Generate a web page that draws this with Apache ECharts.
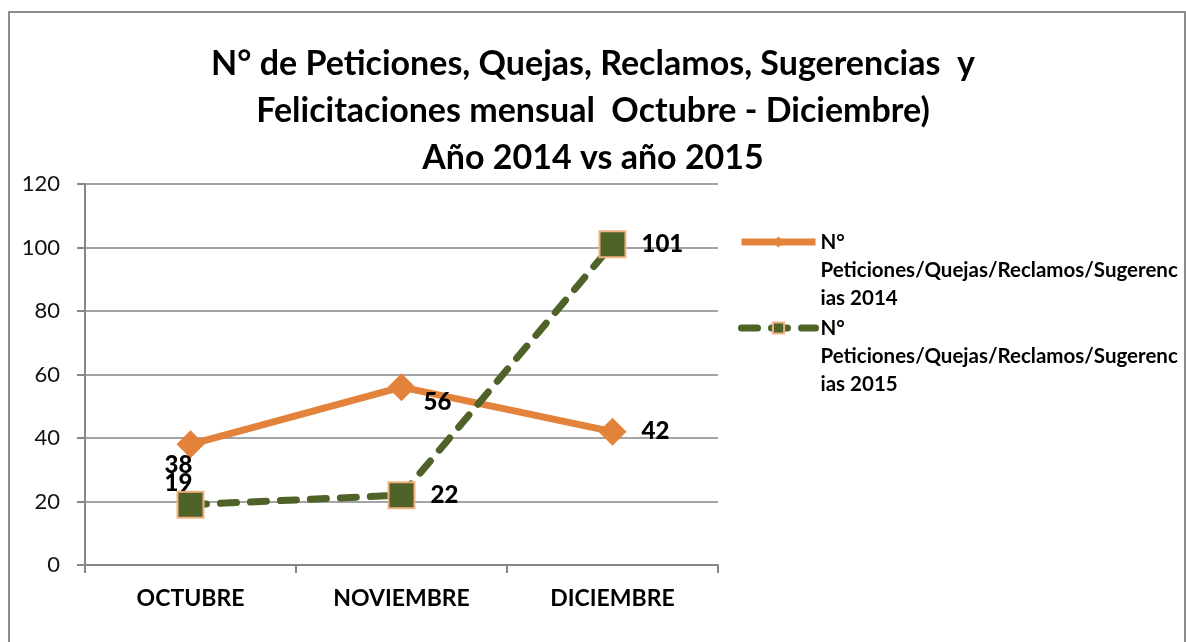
<!DOCTYPE html>
<html>
<head>
<meta charset="utf-8">
<script src="https://cdn.jsdelivr.net/npm/echarts@6/dist/echarts.min.js"></script>
<style>
  html, body { margin: 0; padding: 0; background: #fff; }
  #main { width: 1186px; height: 642px; }
</style>
</head>
<body>
<div id="main"></div>
<script>
var meses = ['OCTUBRE', 'NOVIEMBRE', 'DICIEMBRE'];
var valores2014 = [38, 56, 42];
var valores2015 = [19, 22, 101];
var nombre2014 = 'N°\nPeticiones/Quejas/Reclamos/Sugerenc\nias 2014';
var nombre2015 = 'N°\nPeticiones/Quejas/Reclamos/Sugerenc\nias 2015';

// posiciones de etiquetas como en el original
var offsets2014 = [[-12, 21], [36, 15], [0, 0]];
var offsets2015 = [[-12, -21], [0, 0], [0, 0]];

var fuente = 'Lato, "Open Sans", sans-serif';
var naranja = '#E2823B';
var verde = '#4F6228';

function etiquetas(vals, offs) {
    return vals.map(function (v, i) {
        var pos = (offs[i][0] === 0 && offs[i][1] === 0) ? 'right' : 'inside';
        return {
            value: v,
            label: { position: pos, offset: offs[i], distance: 15, fontWeight: 900 }
        };
    });
}

var myChart = echarts.init(document.getElementById('main'));
var option = {
    backgroundColor: '#fff',
    textStyle: { fontFamily: fuente },
    graphic: [{
        type: 'rect',
        shape: { x: 9, y: 12, width: 1176, height: 640 },
        style: { fill: 'none', stroke: '#8c8c8c', lineWidth: 2 },
        silent: true
    }],
    title: {
        text: 'N° de Peticiones, Quejas, Reclamos, Sugerencias  y\nFelicitaciones mensual  Octubre - Diciembre)\nAño 2014 vs año 2015',
        left: 'center',
        top: 36,
        textStyle: {
            fontFamily: fuente,
            fontSize: 34,
            fontWeight: 'bold',
            color: '#000',
            lineHeight: 47,
            align: 'center'
        }
    },
    legend: {
        orient: 'vertical',
        left: 733,
        top: 167,
        itemWidth: 74,
        itemHeight: 14,
        itemGap: -54,
        textStyle: {
            fontFamily: fuente,
            fontSize: 20.5,
            fontWeight: 'bold',
            color: '#000',
            lineHeight: 28
        },
        formatter: function (name) { return ' \n \n' + name; },
        data: [
            { name: nombre2014, lineStyle: { width: 7 } },
            { name: nombre2015, lineStyle: { width: 7 } }
        ]
    },
    grid: { left: 85, right: 468, top: 184, bottom: 77 },
    xAxis: {
        type: 'category',
        data: meses,
        boundaryGap: true,
        axisLine: { lineStyle: { color: '#868686', width: 2 } },
        axisTick: { show: true, length: 8, lineStyle: { color: '#868686', width: 2 } },
        axisLabel: { margin: 22, fontSize: 23, fontWeight: 'bold', color: '#000', fontFamily: fuente }
    },
    yAxis: {
        type: 'value',
        min: 0,
        max: 120,
        interval: 20,
        axisLine: { show: true, lineStyle: { color: '#868686', width: 2 } },
        axisTick: { show: true, length: 8, lineStyle: { color: '#868686', width: 2 } },
        splitLine: { lineStyle: { color: '#868686', width: 1.5 } },
        axisLabel: { margin: 25, fontSize: 22, color: '#111', fontFamily: fuente }
    },
    series: [
        {
            name: nombre2014,
            type: 'line',
            data: etiquetas(valores2014, offsets2014),
            symbol: 'diamond',
            symbolSize: 28,
            color: naranja,
            lineStyle: { color: naranja, width: 7 },
            itemStyle: { color: naranja },
            label: { show: true, position: 'right', distance: 15, fontSize: 24, fontWeight: 900, color: '#000', fontFamily: fuente }
        },
        {
            name: nombre2015,
            type: 'line',
            data: etiquetas(valores2015, offsets2015),
            symbol: 'rect',
            symbolSize: 26,
            color: verde,
            lineStyle: { color: verde, width: 7, type: [16, 14], cap: 'round' },
            itemStyle: { color: verde, borderColor: '#F4B183', borderWidth: 2 },
            label: { show: true, position: 'right', distance: 15, fontSize: 24, fontWeight: 900, color: '#000', fontFamily: fuente }
        }
    ]
};
myChart.setOption(option);
</script>
</body>
</html>
